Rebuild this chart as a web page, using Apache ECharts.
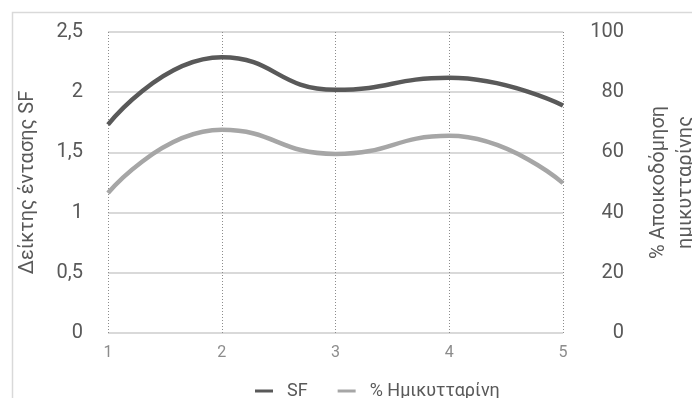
<!DOCTYPE html>
<html>
<head>
<meta charset="utf-8">
<script src="https://cdn.jsdelivr.net/npm/echarts@6/dist/echarts.min.js"></script>
<style>html,body{margin:0;padding:0;background:#fff;}#c{width:692px;height:398px;}</style>
</head>
<body>
<div id="c"></div>
<script>
const categories = ['1', '2', '3', '4', '5'];
const sfValues = [1.73, 2.29, 2.02, 2.12, 1.89];
const hemiValues = [46.5, 67.5, 59.5, 65.5, 49.8];
const leftTicks = [0, 0.5, 1, 1.5, 2, 2.5];
const rightTicks = [0, 20, 40, 60, 80, 100];
const seriesNames = ['SF', '% Ημικυτταρίνη'];
const leftAxisName = 'Δείκτης έντασης SF';
const rightAxisName = '% Αποικοδόμηση\nημικυτταρίνης';

const FONT = 'Roboto, Liberation Sans, Arial, sans-serif';
const chart = echarts.init(document.getElementById('c'), null, {renderer: 'canvas'});
chart.setOption({
  animation: false,
  backgroundColor: '#fff',
  textStyle: {fontFamily: FONT},
  graphic: [{
    type: 'rect', left: 10, top: 10, z: -10,
    shape: {width: 900, height: 600},
    style: {fill: 'none', stroke: '#d9d9d9', lineWidth: 1.5}
  }],
  grid: {left: 108, right: 129, top: 32, bottom: 65, outerBoundsMode: 'none', containLabel: false},
  legend: {
    left: 250, top: 377,
    data: seriesNames,
    icon: 'rect', itemWidth: 18, itemHeight: 3, itemGap: 30,
    textStyle: {fontSize: 18, color: '#595959', fontFamily: FONT, padding: [0, 0, 0, 9]}
  },
  xAxis: {
    type: 'category', data: categories, boundaryGap: false,
    axisLine: {show: false}, axisTick: {show: false},
    axisLabel: {fontSize: 16, color: '#8c8c8c', margin: 12},
    splitLine: {show: true, lineStyle: {type: [1, 2], color: '#8c8c8c', width: 1}}
  },
  yAxis: [{
    type: 'value', min: 0, max: 2.5, interval: 0.5,
    name: leftAxisName, nameLocation: 'middle', nameGap: 70,
    nameTextStyle: {fontSize: 20, color: '#595959'},
    axisLine: {show: false}, axisTick: {show: false},
    axisLabel: {fontSize: 20, color: '#595959', margin: 25,
      formatter: v => String(v).replace('.', ',')},
    splitLine: {lineStyle: {color: '#d9d9d9', width: 2}}
  }, {
    type: 'value', min: 0, max: 100, interval: 20,
    name: rightAxisName, nameLocation: 'middle', nameGap: 82,
    nameTextStyle: {fontSize: 20, color: '#595959', lineHeight: 27},
    axisLine: {show: false}, axisTick: {show: false},
    axisLabel: {fontSize: 20, color: '#595959', margin: 61, align: 'right'},
    splitLine: {show: false}
  }],
  series: [{
    name: seriesNames[0], type: 'line', yAxisIndex: 0, data: sfValues,
    smooth: 0.5, symbol: 'none',
    lineStyle: {color: '#595959', width: 4.5}, itemStyle: {color: '#595959'}
  }, {
    name: seriesNames[1], type: 'line', yAxisIndex: 1, data: hemiValues,
    smooth: 0.5, symbol: 'none',
    lineStyle: {color: '#a6a6a6', width: 4.5}, itemStyle: {color: '#a6a6a6'}
  }]
});
</script>
</body>
</html>
